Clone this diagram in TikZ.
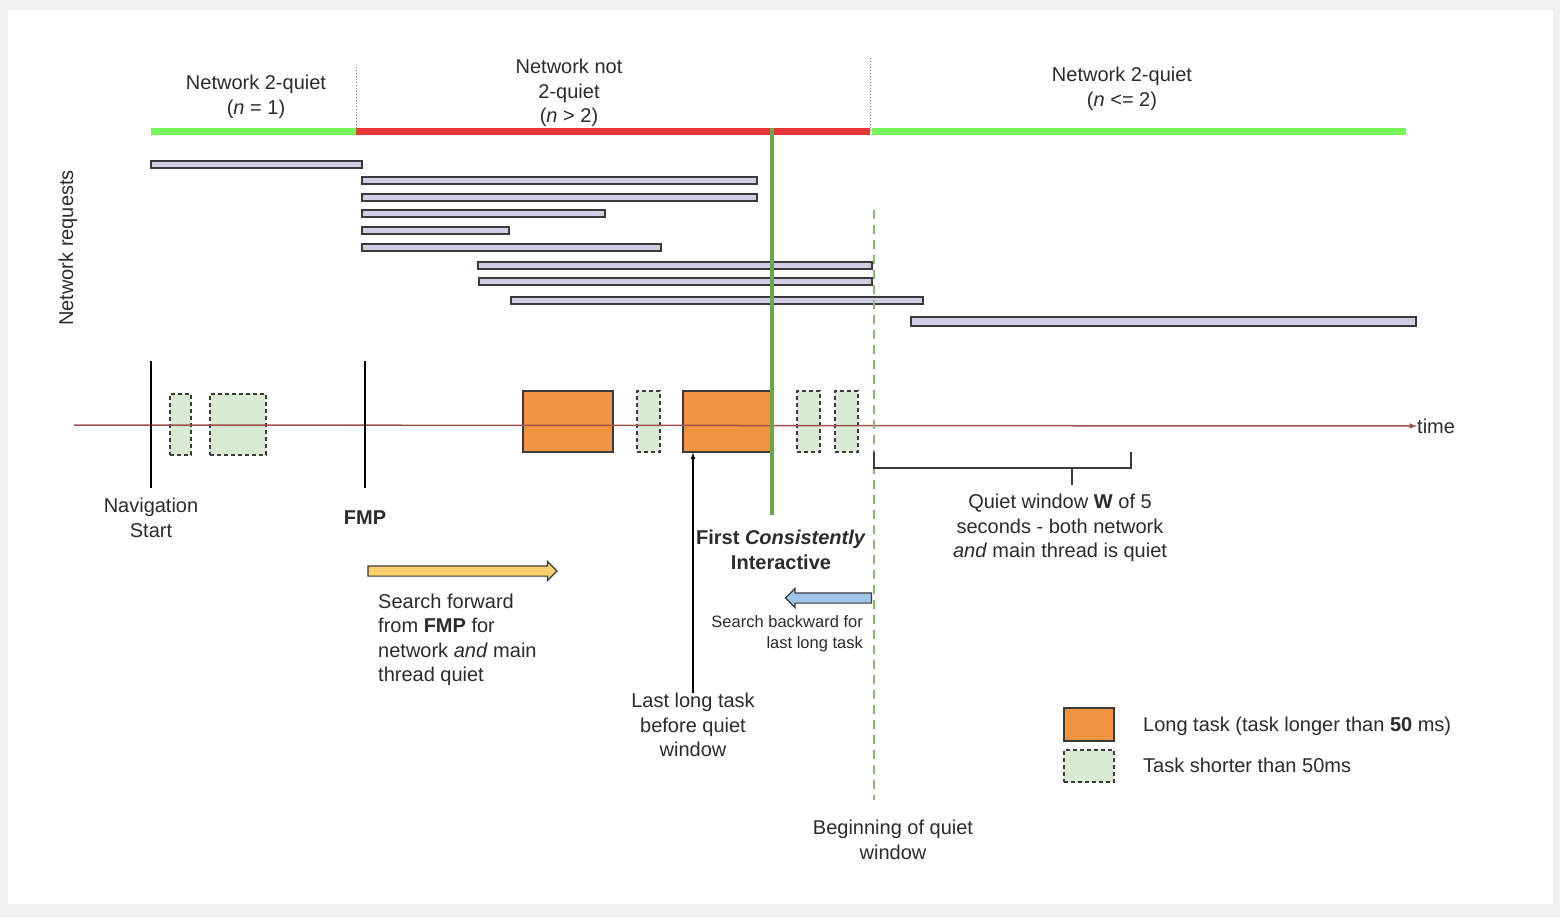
\documentclass[tikz,border=0pt]{standalone}
\usepackage{fontspec}
\setmainfont{Liberation Sans}
\usepackage{tikz}
\usetikzlibrary{arrows}
\usetikzlibrary{shapes.arrows}

\definecolor{bggray}{HTML}{F1F1F1}
\definecolor{textgray}{HTML}{2B2B2B}
\definecolor{boxline}{HTML}{3A3A3A}
\definecolor{reqfill}{HTML}{D0CDE5}
\definecolor{longfill}{HTML}{F0953F}
\definecolor{shortfill}{HTML}{D9EAD3}
\definecolor{quietgreen}{HTML}{75F65A}
\definecolor{busyred}{HTML}{EA3636}
\definecolor{fcigreen}{HTML}{6AA84F}
\definecolor{dashgreen}{HTML}{84BD6B}
\definecolor{axisred}{HTML}{A0504B}
\definecolor{fwdyellow}{HTML}{F8D06E}
\definecolor{backblue}{HTML}{9FC5E8}

\begin{document}
\begin{tikzpicture}[x=1pt,y=-1pt]
    \tikzstyle{lbl}=[text=textgray,inner sep=0pt,align=center,font=\fontsize{20}{24.5}\selectfont]
    \tikzstyle{small}=[text=textgray,inner sep=0pt,font=\fontsize{16.5}{21}\selectfont]
    \tikzstyle{req}=[draw=boxline,fill=reqfill,line width=1.2pt]
    \tikzstyle{longtask}=[draw=boxline,fill=longfill,line width=1.3pt,inner sep=0pt,minimum height=61pt]
    \tikzstyle{shorttask}=[draw=boxline,fill=shortfill,line width=1.3pt,dash pattern=on 4pt off 3pt,inner sep=0pt,minimum height=61pt]
    \tikzstyle{marker}=[draw=black,line width=1.2pt]
    \tikzstyle{divider}=[draw=gray,dotted,line width=1pt]
    \tikzstyle{phase}=[line width=7pt]
    \tikzstyle{blockarrow}=[single arrow,draw=boxline,line width=1.2pt,inner xsep=0pt,inner ysep=4.5pt,single arrow head extend=4.5pt,single arrow head indent=0pt,minimum width=18pt]

    % frame
    \fill[bggray] (0,0) rectangle (1560,918);
    \fill[white] (8,10) rectangle (1553,904);
    \useasboundingbox (0,0) rectangle (1560,918);

    % network phases
    \coordinate (p0) at (151,131);
    \coordinate (p1) at (356,131);
    \coordinate (p2) at (870,131);
    \coordinate (p3) at (1406,131);
    \draw[phase,quietgreen] (p0) -- (p1);
    \draw[phase,busyred] (p1) -- (p2);
    \draw[phase,quietgreen] ([xshift=2pt]p2) -- (p3);
    \draw[divider] (356,67) -- (p1);
    \draw[divider] (870,58) -- (p2);

    \node[lbl] (q1) at (256,97) {Network 2-quiet\\(\textit{n} = 1)};
    \node[lbl] (nq) at (569,93) {Network not\\2-quiet\\(\textit{n} > 2)};
    \node[lbl] (q2) at (1122,89) {Network 2-quiet\\(\textit{n} <= 2)};

    % network requests
    \node[lbl,rotate=90] (netreq) at (68,248) {Network requests};
    \draw[req] (151,161) rectangle (362,168);
    \draw[req] (362,177) rectangle (757,184);
    \draw[req] (362,194) rectangle (757,201);
    \draw[req] (362,210) rectangle (605,217);
    \draw[req] (362,227) rectangle (509,234);
    \draw[req] (362,244) rectangle (661,251);
    \draw[req] (478,262) rectangle (872,269);
    \draw[req] (479,278) rectangle (872,285);
    \draw[req] (511,297) rectangle (923,304);
    \draw[req] (911,317) rectangle (1416,326);

    % main thread tasks
    \node[shorttask,minimum width=21pt] (s1) at (180.5,424.5) {};
    \node[shorttask,minimum width=56pt] (s2) at (238,424.5) {};
    \node[longtask,minimum width=90pt]  (l1) at (568,421.5) {};
    \node[shorttask,minimum width=23pt] (s3) at (648.5,421.5) {};
    \node[longtask,minimum width=88pt]  (l2) at (727,421.5) {};
    \node[shorttask,minimum width=23pt] (s4) at (808.5,421.5) {};
    \node[shorttask,minimum width=23pt] (s5) at (846.5,421.5) {};

    % time axis
    \coordinate (t0) at (74,425);
    \node[lbl,anchor=west] (time) at (1417,426) {time};
    \draw[axisred,line width=1.5pt,-latex] (t0) -- (time.west);

    % markers
    \coordinate (nav) at (151,361);
    \coordinate (fmp) at (365,361);
    \draw[marker] (nav) -- ++(0,127);
    \draw[marker] (fmp) -- ++(0,127);
    \node[lbl] (navlbl) at (151,518) {Navigation\\Start};
    \node[lbl] (fmplbl) at (365,518) {\textbf{FMP}};

    % quiet window
    \coordinate (qw) at (874,210);
    \draw[dashgreen,line width=2.6pt,dash pattern=on 9pt off 6pt] (qw) -- (874,800);
    \draw[boxline,line width=1.3pt] (874,452) -- (874,468) -- (1131,468) -- (1131,452);
    \draw[boxline,line width=1.3pt] (1072,468) -- (1072,485);
    \node[lbl] (qwlbl) at (1060,528) {Quiet window \textbf{W} of 5\\seconds - both network\\\textit{and} main thread is quiet};
    \node[lbl] (beglbl) at (893,840) {Beginning of quiet\\window};

    % first consistently interactive
    \draw[fcigreen,line width=4pt] (772,128) -- (772,515);
    \node[lbl] (fci) at (781,550) {\textbf{First \textit{Consistently}}\\\textbf{Interactive}};

    % searches
    \node[blockarrow,fill=fwdyellow,minimum height=189pt] (fwd) at (460,571) {};
    \node[lbl,align=left,anchor=west] (fwdlbl) at (378,640) {Search forward\\from \textbf{FMP} for\\network \textit{and} main\\thread quiet};
    \node[blockarrow,fill=backblue,shape border rotate=180,minimum height=86pt] (back) at (831,598) {};
    \node[small,align=right,anchor=east] (backlbl) at (863,634) {Search backward for\\last long task};

    \node[lbl] (lastlbl) at (693,725) {Last long task\\before quiet\\window};
    \draw[black,line width=1.2pt,-latex] (lastlbl.north) -- (lastlbl.north |- l2.south);

    % legend
    \node[longtask,minimum width=50pt,minimum height=33pt] (lglong) at (1089,724.5) {};
    \node[shorttask,minimum width=50pt,minimum height=32pt] (lgshort) at (1089,766) {};
    \node[lbl,anchor=west] (lglonglbl) at (1143,726) {Long task (task longer than \textbf{50} ms)};
    \node[lbl,anchor=west] (lgshortlbl) at (1143,765) {Task shorter than 50ms};
\end{tikzpicture}
\end{document}
